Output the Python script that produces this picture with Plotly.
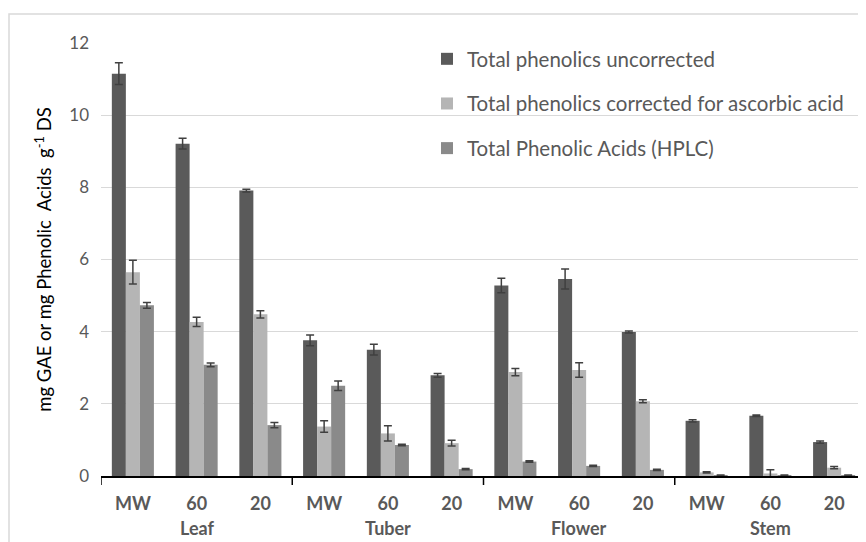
import plotly.graph_objects as go

organs = ["Leaf", "Tuber", "Flower", "Stem"]
treatments = ["MW", "60", "20"]

uncorrected = [11.15, 9.21, 7.91, 3.76, 3.50, 2.79, 5.28, 5.46, 3.99, 1.53, 1.67, 0.94]
uncorrected_err = [0.30, 0.15, 0.04, 0.15, 0.15, 0.05, 0.20, 0.28, 0.03, 0.03, 0.02, 0.03]
corrected = [5.65, 4.27, 4.48, 1.37, 1.18, 0.91, 2.88, 2.94, 2.07, 0.10, 0.07, 0.23]
corrected_err = [0.33, 0.13, 0.10, 0.16, 0.21, 0.08, 0.10, 0.20, 0.04, 0.02, 0.10, 0.03]
hplc = [4.73, 3.08, 1.41, 2.50, 0.86, 0.19, 0.40, 0.28, 0.17, 0.02, 0.02, 0.02]
hplc_err = [0.08, 0.05, 0.07, 0.13, 0.02, 0.02, 0.02, 0.02, 0.02, 0.01, 0.01, 0.01]

series_names = [
    "Total phenolics uncorrected",
    "Total phenolics corrected for ascorbic acid",
    "Total Phenolic Acids (HPLC)",
]
series_colors = ["#5a5a5a", "#b5b5b5", "#8a8a8a"]

cats = [f"{o} {t}" for o in organs for t in treatments]
tick_text = [t for o in organs for t in treatments]

FONT = "Lato, 'Open Sans', sans-serif"
W, H = 858, 534
L, T, B = 93, 35, 66
PW, PH = W - L, H - T - B

fig = go.Figure()
for i, (name, vals, errs) in enumerate(zip(series_names, [uncorrected, corrected, hplc],
                                           [uncorrected_err, corrected_err, hplc_err])):
    fig.add_trace(go.Bar(
        x=cats, y=vals, name=name, legendgroup=str(i),
        marker=dict(color=series_colors[i], line=dict(width=0)),
        error_y=dict(type="data", array=errs, visible=True, color="#404040",
                     thickness=1.5, width=4),
    ))

# outer chart frame
fig.add_shape(type="rect", xref="paper", yref="paper",
              x0=(1 - L) / PW, x1=1.2, y0=-0.3, y1=(T + PH - 6) / PH,
              line=dict(color="#d9d9d9", width=1.5), layer="below")

# group divider ticks
for b in [-0.5, 2.5, 5.5, 8.5, 11.5]:
    fig.add_shape(type="line", xref="x", yref="paper", x0=b, x1=b, y0=0, y1=-9 / PH,
                  line=dict(color="#000000", width=1.5))

# group labels
for gi, o in enumerate(organs):
    fig.add_annotation(x=cats[gi * 3 + 1], y=0, xref="x", yref="paper", yshift=-52,
                       yanchor="middle", text=f"<b>{o}</b>", showarrow=False,
                       font=dict(family=FONT, size=18, color="#595959"))

fig.update_layout(
    width=W, height=H,
    margin=dict(l=L, r=0, t=T, b=B),
    paper_bgcolor="white", plot_bgcolor="white",
    barmode="group", bargap=0.34, bargroupgap=0,
    font=dict(family=FONT, color="#595959"),
    showlegend=True,
    legend=dict(x=(419 - L) / PW, y=1.0 + 4 / PH, xanchor="left", yanchor="top",
                font=dict(family=FONT, size=20.5, color="#595959"),
                traceorder="grouped", tracegroupgap=15,
                bgcolor="rgba(0,0,0,0)", itemwidth=30),
    xaxis=dict(type="category", tickmode="array", tickvals=cats, ticktext=tick_text,
               tickfont=dict(family=FONT, size=18, color="#595959", weight="bold"),
               showline=True, linecolor="#000000", linewidth=1.5,
               ticks="", ticklabelstandoff=11, showgrid=False, range=[-0.5, 11.5]),
    yaxis=dict(range=[0, 12], dtick=2, showgrid=True, gridcolor="#d9d9d9", gridwidth=1,
               zeroline=False, showline=False, ticks="",
               tickfont=dict(family=FONT, size=17, color="#595959"),
               ticklabelstandoff=11,
               title=dict(text="mg GAE or mg Phenolic  Acids  g<sup>-1</sup> DS",
                          font=dict(family=FONT, size=18.5, color="#000000"), standoff=12)),
)

fig.write_html("out.html")
